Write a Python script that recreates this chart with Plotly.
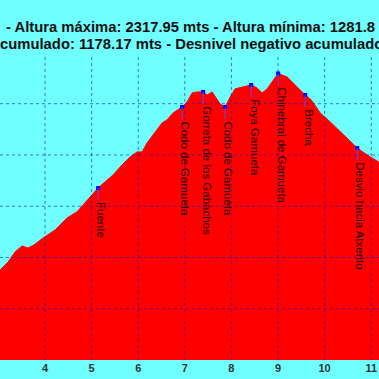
import plotly.graph_objects as go

# Profile (distance in km, elevation in m)
km = [2.99, 3.034, 3.206, 3.356, 3.506, 3.635, 3.764, 3.957, 4.215, 4.472, 4.687,
      4.816, 5.009, 5.138, 5.288, 5.460, 5.653, 5.825, 5.976, 6.083, 6.190, 6.319,
      6.512, 6.620, 6.749, 6.942, 7.049, 7.157, 7.264, 7.393, 7.479, 7.586, 7.758,
      7.865, 7.973, 8.080, 8.252, 8.424, 8.552, 8.660, 8.767, 8.874, 8.939, 9.003,
      9.197, 9.347, 9.497, 9.583, 9.712, 9.905, 10.120, 10.335, 10.549, 10.700,
      10.914, 11.172, 11.30]
ele = [1547, 1551, 1582, 1621, 1645, 1637, 1649, 1676, 1707, 1754, 1778,
       1805, 1844, 1871, 1895, 1922, 1961, 1992, 2012, 2012, 2047, 2078,
       2125, 2137, 2164, 2187, 2207, 2242, 2246, 2246, 2234, 2246, 2199,
       2187, 2226, 2258, 2265, 2273, 2261, 2242, 2258, 2285, 2304, 2318,
       2304, 2277, 2246, 2234, 2215, 2164, 2129, 2090, 2055, 2027,
       2000, 1973, 1957]

# Waypoints
wp_names = ["Fuente", "Codo de Gamueta", "Gorreta de los Gabachos", "Codo de Gamueta",
            "Foya Gamueta", "Chinebral de Gamueta", "Brecha", "Desvio hacia Atxerito"]
wp_km = [5.138, 6.942, 7.393, 7.865, 8.424, 9.003, 9.583, 10.700]
wp_ele = [1871, 2187, 2246, 2187, 2273, 2318, 2234, 2027]

x_ticks = [3, 4, 5, 6, 7, 8, 9, 10, 11]
y_grid = [1400, 1600, 1800, 2000, 2200]
x_range = [3.034, 11.167]
y_range = [1200, 2390]

title_line1 = "- Altura máxima: 2317.95 mts - Altura mínima: 1281.8 mts"
title_line2 = "Desnivel positivo acumulado: 1178.17 mts - Desnivel negativo acumulado"

BG = "#70FFFF"
FONT = "Liberation Sans, Arial, sans-serif"

fig = go.Figure()
fig.add_trace(go.Scatter(x=km, y=ele, mode="lines", fill="tozeroy",
                         fillcolor="#FF0000", line=dict(color="#FF0000", width=1),
                         hoverinfo="skip", showlegend=False))
fig.add_trace(go.Scatter(x=wp_km, y=wp_ele, mode="markers",
                         marker=dict(color="#0000FF", size=4, symbol="square"),
                         showlegend=False))

shapes = []
grid_line = dict(color="rgba(20,20,200,0.6)", width=1, dash="dot")
for t in x_ticks:
    shapes.append(dict(type="line", xref="x", yref="paper", x0=t, x1=t, y0=0, y1=1,
                       line=grid_line, layer="above"))
for g in y_grid:
    shapes.append(dict(type="line", xref="paper", yref="y", x0=0, x1=1, y0=g, y1=g,
                       line=grid_line, layer="above"))
for k, e in zip(wp_km, wp_ele):
    shapes.append(dict(type="line", xref="x", yref="y", x0=k, x1=k,
                       ysizemode="pixel", yanchor=e, y0=0, y1=-12,
                       line=dict(color="#5050FF", width=1), layer="above"))

annotations = []
for n, k, e in zip(wp_names, wp_km, wp_ele):
    annotations.append(dict(x=k, y=e, xref="x", yref="y", text=n, showarrow=False,
                            textangle=90, xanchor="center", yanchor="top",
                            yshift=-12, xshift=3,
                            font=dict(family=FONT, size=11.5, color="#1a0000")))
annotations.append(dict(x=4 / 379, y=1.0918, xref="paper", yref="paper",
                        text=title_line1, showarrow=False, xanchor="left", yanchor="middle",
                        font=dict(family=FONT, size=14.8, color="#111111", weight="bold")))
annotations.append(dict(x=385 / 379, y=1.036, xref="paper", yref="paper",
                        text=title_line2, showarrow=False, xanchor="right", yanchor="middle",
                        font=dict(family=FONT, size=14.8, color="#111111", weight="bold")))

fig.update_layout(
    width=379, height=379,
    margin=dict(l=0, r=0, t=55, b=19, pad=0),
    paper_bgcolor=BG, plot_bgcolor=BG,
    shapes=shapes, annotations=annotations,
    showlegend=False,
    xaxis=dict(range=x_range, tickvals=x_ticks, ticktext=[str(t) for t in x_ticks],
               showgrid=False, zeroline=False, showline=False, ticks="",
               tickfont=dict(family=FONT, size=11, color="#333333", weight="bold")),
    yaxis=dict(range=y_range, showgrid=False, zeroline=False, showticklabels=False,
               showline=False, ticks=""),
)

fig.write_html("out.html", config={"displayModeBar": False},
               post_script="document.body.style.margin='0';document.body.style.overflow='hidden';")
